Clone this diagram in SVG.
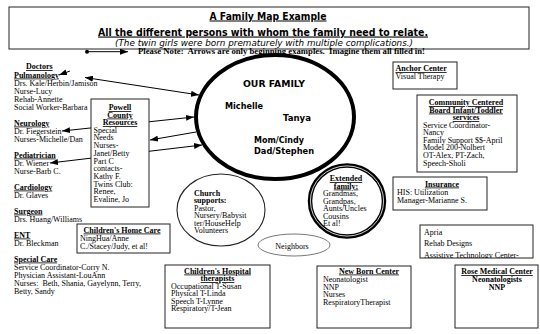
<svg xmlns="http://www.w3.org/2000/svg" width="540" height="334" viewBox="0 0 540 334">
<style>
.t{font-family:"Liberation Serif",serif;font-size:8px;fill:#000}
.b{font-weight:bold}
.u{text-decoration:underline}
.m{text-anchor:middle}
.c{font-family:"DejaVu Sans",sans-serif;font-weight:bold;fill:#000}
.box{fill:#fff;stroke:#222;stroke-width:1}
.ln{stroke:#000;stroke-width:1;fill:none}
.pre{white-space:pre}
</style>
<defs>
<marker id="ah" markerUnits="userSpaceOnUse" markerWidth="8" markerHeight="6" refX="8" refY="3" orient="auto-start-reverse">
<path d="M0,0 L8,3 L0,6 z" fill="#000"/>
</marker>
<clipPath id="apclip"><rect x="420" y="225" width="113" height="33"/></clipPath>
</defs>
<rect width="540" height="334" fill="#fff"/>

<g id="header">
<rect x="9" y="7" width="520" height="42" fill="none" stroke="#222" stroke-width="1"/>
<text class="c u m" x="268" y="19.5" font-size="10" textLength="117" lengthAdjust="spacingAndGlyphs">A Family Map Example</text>
<text class="c u m" x="263" y="35.5" font-size="11" textLength="330" lengthAdjust="spacingAndGlyphs">All the different persons with whom the family need to relate.</text>
<text class="m" x="264" y="46" font-family="DejaVu Sans, sans-serif" font-style="italic" font-size="9" textLength="298" lengthAdjust="spacingAndGlyphs">(The twin girls were born prematurely  with multiple complications.)</text>
<circle cx="87" cy="51.7" r="2" fill="#000"/>
<path class="ln" d="M87,51.7 L128,51.7" marker-end="url(#ah)"/>
<text class="t b pre" x="138" y="54.2" font-size="7.5" textLength="287" lengthAdjust="spacingAndGlyphs">Please Note:  Arrows are only beginning examples.  Imagine them all filled in!</text>
</g>

<g id="connectors">
<path class="ln" d="M85,77.5 L199,95" marker-start="url(#ah)" marker-end="url(#ah)"/>
<path class="ln" d="M70,71 L59,75" marker-end="url(#ah)"/>
<path class="ln" d="M62,131 L194,117" marker-start="url(#ah)" marker-end="url(#ah)"/>
<path class="ln" d="M196,132 L150,140" marker-end="url(#ah)"/>
<path class="ln" d="M50,163 L202,145" marker-start="url(#ah)" marker-end="url(#ah)"/>
</g>

<g id="our-family">
<ellipse cx="275" cy="117" rx="79" ry="62" fill="none" stroke="#000" stroke-width="4"/>
<text class="c" x="243" y="86.5" font-size="8.5" textLength="62" lengthAdjust="spacingAndGlyphs">OUR FAMILY</text>
<text class="c" x="225" y="109" font-size="8.5" textLength="38" lengthAdjust="spacingAndGlyphs">Michelle</text>
<text class="c" x="283" y="120.5" font-size="8.5" textLength="28" lengthAdjust="spacingAndGlyphs">Tanya</text>
<text class="c" x="254" y="142.5" font-size="8.5" textLength="50" lengthAdjust="spacingAndGlyphs">Mom/Cindy</text>
<text class="c" x="254" y="154" font-size="8.5" textLength="60" lengthAdjust="spacingAndGlyphs">Dad/Stephen</text>
</g>

<g id="doctors">
<text class="t b u" x="26" y="69" font-size="10">Doctors</text>
<g id="pulmanology">
<text class="t b u" x="14" y="77.5">Pulmanology</text>
<text class="t" x="14" y="85.5">Drs. Kale/Herbin/Jamison</text>
<text class="t" x="14" y="93.5">Nurse-Lucy</text>
<text class="t" x="14" y="101.5">Rehab-Annette</text>
<text class="t" x="14" y="109.5">Social Worker-Barbara</text>
</g>
<g id="neurology">
<text class="t b u" x="14" y="125.5">Neurology</text>
<text class="t" x="14" y="133.5">Dr. Fiegerstein</text>
<text class="t" x="14" y="141.5">Nurses-Michelle/Dan</text>
</g>
<g id="pediatrician">
<text class="t b u" x="14" y="157.5">Pediatrician</text>
<text class="t" x="14" y="165.5">Dr. Wiener</text>
<text class="t" x="14" y="173.5">Nurse-Barb C.</text>
</g>
<g id="cardiology">
<text class="t b u" x="14" y="189.5">Cardiology</text>
<text class="t" x="14" y="197.5">Dr. Glaves</text>
</g>
<g id="surgeon">
<text class="t b u" x="14" y="213.5">Surgeon</text>
<text class="t" x="14" y="221.5">Drs. Huang/Williams</text>
</g>
<g id="ent">
<text class="t b u" x="14" y="237.5">ENT</text>
<text class="t" x="14" y="245.5">Dr. Bleckman</text>
</g>
<g id="special-care">
<text class="t b u" x="14" y="261.5">Special Care</text>
<text class="t" x="14" y="269.5">Service Coordinator-Corry N.</text>
<text class="t" x="14" y="277.5">Physician Assistant-LouAnn</text>
<text class="t pre" x="14" y="285.5">Nurses:  Beth, Shania, Gayelynn, Terry,</text>
<text class="t" x="14" y="293.5">Betty, Sandy</text>
</g>
</g>

<g id="powell">
<rect class="box" x="91" y="99" width="58" height="108"/>
<text class="t b u m" x="120" y="110">Powell</text>
<text class="t b u m" x="120" y="117.5">County</text>
<text class="t b u m" x="120" y="125">Resources</text>
<text class="t" x="93.5" y="132.7">Special</text>
<text class="t" x="93.5" y="140.4">Needs</text>
<text class="t" x="93.5" y="148.1">Nurses-</text>
<text class="t" x="93.5" y="155.8">Janet/Betty</text>
<text class="t" x="93.5" y="163.5">Part C</text>
<text class="t" x="93.5" y="171.2">contacts-</text>
<text class="t" x="93.5" y="178.9">Kathy F.</text>
<text class="t" x="93.5" y="186.6">Twins Club:</text>
<text class="t" x="93.5" y="194.3">Renee,</text>
<text class="t" x="93.5" y="202">Evaline, Jo</text>
</g>

<g id="home-care">
<rect class="box" x="77" y="224" width="93" height="29"/>
<text class="t b u m" x="122" y="232.5">Children's Home Care</text>
<text class="t" x="80" y="240.5">NingHua/Anne</text>
<text class="t" x="80" y="248.5">C./Stacey/Judy, et al!</text>
</g>

<g id="church">
<ellipse cx="221" cy="210" rx="44" ry="36" fill="#fff" stroke="#222" stroke-width="1.1"/>
<text class="t b" x="194" y="195.5">Church</text>
<text class="t b" x="194" y="203">supports:</text>
<text class="t" x="194" y="210.5">Pastor,</text>
<text class="t" x="194" y="218">Nursery/Babysit</text>
<text class="t" x="194" y="225.5">ter/HouseHelp</text>
<text class="t" x="194" y="233">Volunteers</text>
</g>

<g id="extended">
<ellipse cx="347" cy="201" rx="37" ry="35.5" fill="#fff" stroke="#000" stroke-width="4.5"/>
<ellipse cx="347" cy="201" rx="36.6" ry="35.1" fill="none" stroke="#fff" stroke-width="0.8"/>
<text class="t b u m" x="346" y="181">Extended</text>
<text class="t b u m" x="346" y="188.5">family:</text>
<text class="t" x="323" y="196">Grandmas,</text>
<text class="t" x="323" y="203.5">Grandpas,</text>
<text class="t" x="323" y="211">Aunts/Uncles</text>
<text class="t" x="323" y="218.5">Cousins</text>
<text class="t" x="323" y="226">Et al!</text>
</g>

<g id="neighbors">
<ellipse cx="294" cy="245" rx="36" ry="11" fill="#fff" stroke="#555" stroke-width="0.8"/>
<text class="t m" x="292" y="248.5">Neighbors</text>
</g>

<g id="anchor">
<rect class="box" x="393" y="62" width="64" height="27"/>
<text class="t b u" x="395.5" y="71">Anchor Center</text>
<text class="t" x="395.5" y="78.5">Visual Therapy</text>
</g>

<g id="ccb">
<rect class="box" x="417" y="95" width="100" height="77"/>
<text class="t b u m" x="466" y="105">Community Centered</text>
<text class="t b u m" x="466" y="112.5">Board Infant/Toddler</text>
<text class="t b u m" x="466" y="120">services</text>
<text class="t" x="423" y="127.5">Service Coordinator-</text>
<text class="t" x="423" y="135">Nancy</text>
<text class="t" x="423" y="142.7">Family Support $$-April</text>
<text class="t" x="423" y="150.4">Model 200-Nolbert</text>
<text class="t" x="423" y="158">OT-Alex, PT-Zach,</text>
<text class="t" x="423" y="165.5">Speech-Sholi</text>
</g>

<g id="insurance">
<rect class="box" x="393" y="177" width="94" height="33"/>
<text class="t b u m" x="442" y="186.5">Insurance</text>
<text class="t" x="397" y="194.5">HIS: Utilization</text>
<text class="t" x="397" y="202.5">Manager-Marianne S.</text>
</g>

<g id="apria">
<rect class="box" x="420" y="225" width="113" height="33"/>
<g clip-path="url(#apclip)">
<text class="t" x="424" y="235">Apria</text>
<text class="t" x="424" y="245.5">Rehab Designs</text>
<text class="t" x="424" y="257.5">Assistive Technology Center-</text>
</g>
</g>

<g id="childrens-hospital">
<rect class="box" x="165" y="265" width="105" height="63"/>
<text class="t b u m" x="217.5" y="273.5">Children's Hospital</text>
<text class="t b u m" x="217.5" y="281">therapists</text>
<text class="t" x="171" y="288.5">Occupational T-Susan</text>
<text class="t" x="171" y="296">Physical T-Linda</text>
<text class="t" x="171" y="303.5">Speech T-Lynne</text>
<text class="t" x="171" y="311">Respiratory/T-Jean</text>
</g>

<g id="new-born">
<rect class="box" x="317" y="266" width="94" height="62"/>
<text class="t b u" x="339" y="273.5">New Born Center</text>
<text class="t" x="323" y="282">Neonatologist</text>
<text class="t" x="323" y="289.5">NNP</text>
<text class="t" x="323" y="297">Nurses</text>
<text class="t" x="323" y="304.5">RespiratoryTherapist</text>
</g>

<g id="rose">
<rect class="box" x="455" y="265" width="83" height="63"/>
<text class="t b u m" x="497" y="274">Rose Medical Center</text>
<text class="t b m" x="497" y="282">Neonatologists</text>
<text class="t b m" x="497" y="289.5">NNP</text>
</g>
</svg>
